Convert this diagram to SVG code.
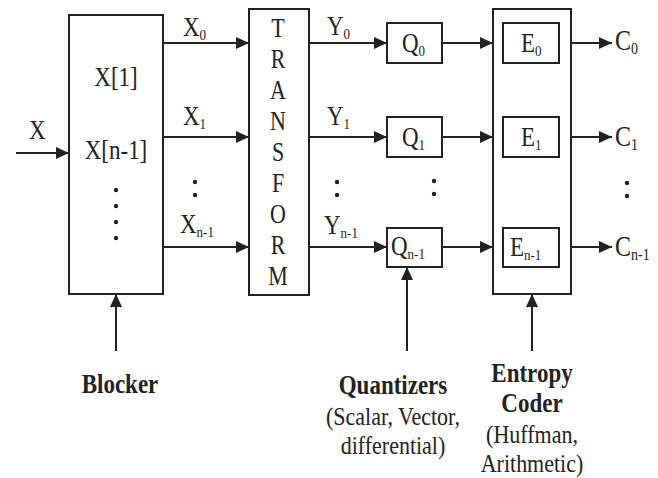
<svg xmlns="http://www.w3.org/2000/svg" width="658" height="478" viewBox="0 0 658 478">
<style>
.box{fill:none;stroke:#222;stroke-width:2}
.ln{stroke:#222;stroke-width:2;fill:none}
.arr{marker-end:url(#ah)}
text{font-family:"Liberation Serif","Times New Roman",serif;fill:#222}
.t{font-size:23px}
.s{font-size:13px}
.c{font-size:24px}
.cs{font-size:14px}
.b{font-size:23px;font-weight:bold;text-anchor:middle}
.n{font-size:22px;text-anchor:middle}
.m{text-anchor:middle}
.dot{fill:#222}
</style>
<defs>
<marker id="ah" markerUnits="userSpaceOnUse" markerWidth="14" markerHeight="12" refX="13" refY="6" orient="auto">
<path d="M0,0 L13,6 L0,12 z" fill="#222"/>
</marker>
</defs>
<rect width="658" height="478" fill="#fff"/>

<g id="connectors">
<line class="ln arr" x1="16" y1="153" x2="69" y2="153"/>
<line class="ln arr" x1="163" y1="43" x2="249" y2="43"/>
<line class="ln arr" x1="163" y1="137" x2="249" y2="137"/>
<line class="ln arr" x1="163" y1="247" x2="249" y2="247"/>
<line class="ln arr" x1="309" y1="43" x2="387" y2="43"/>
<line class="ln arr" x1="309" y1="137" x2="387" y2="137"/>
<line class="ln arr" x1="309" y1="247" x2="387" y2="247"/>
<line class="ln arr" x1="442" y1="43" x2="493" y2="43"/>
<line class="ln arr" x1="442" y1="137" x2="493" y2="137"/>
<line class="ln arr" x1="442" y1="247" x2="493" y2="247"/>
<line class="ln arr" x1="571" y1="43" x2="612" y2="43"/>
<line class="ln arr" x1="571" y1="137" x2="612" y2="137"/>
<line class="ln arr" x1="571" y1="247" x2="612" y2="247"/>
<line class="ln arr" x1="116" y1="351" x2="116" y2="294"/>
<line class="ln arr" x1="407" y1="351" x2="407" y2="267"/>
<line class="ln arr" x1="532" y1="351" x2="532" y2="294"/>
</g>

<g id="input-label">
<text class="t" transform="translate(29 139) scale(1 1.18)">X</text>
</g>

<g id="blocker">
<rect class="box" x="69" y="15" width="94" height="279"/>
<text class="t m" transform="translate(116 86) scale(1 1.18)">X[1]</text>
<text class="t m" transform="translate(116 159) scale(1 1.18)">X[n-1]</text>
<circle class="dot" cx="116" cy="190" r="2.2"/>
<circle class="dot" cx="116" cy="206" r="2.2"/>
<circle class="dot" cx="116" cy="222" r="2.2"/>
<circle class="dot" cx="116" cy="238" r="2.2"/>
</g>

<g id="x-labels">
<text class="t" transform="translate(183 36) scale(1 1.18)">X<tspan class="s" dy="3">0</tspan></text>
<text class="t" transform="translate(183 125) scale(1 1.18)">X<tspan class="s" dy="3">1</tspan></text>
<text class="t" transform="translate(180 233) scale(1 1.18)">X<tspan class="s" dy="3">n-1</tspan></text>
<circle class="dot" cx="195" cy="182" r="2.2"/>
<circle class="dot" cx="195" cy="195" r="2.2"/>
</g>

<g id="transform">
<rect class="box" x="249" y="9" width="60" height="286"/>
<text class="n" transform="translate(278 37) scale(1 1.2)">T</text>
<text class="n" transform="translate(278 68) scale(1 1.2)">R</text>
<text class="n" transform="translate(278 99) scale(1 1.2)">A</text>
<text class="n" transform="translate(278 130) scale(1 1.2)">N</text>
<text class="n" transform="translate(278 161) scale(1 1.2)">S</text>
<text class="n" transform="translate(278 192) scale(1 1.2)">F</text>
<text class="n" transform="translate(278 223) scale(1 1.2)">O</text>
<text class="n" transform="translate(278 254) scale(1 1.2)">R</text>
<text class="n" transform="translate(278 285) scale(1 1.2)">M</text>
</g>

<g id="y-labels">
<text class="t" transform="translate(327 35) scale(1 1.18)">Y<tspan class="s" dy="3">0</tspan></text>
<text class="t" transform="translate(327 125) scale(1 1.18)">Y<tspan class="s" dy="3">1</tspan></text>
<text class="t" transform="translate(324 234) scale(1 1.18)">Y<tspan class="s" dy="3">n-1</tspan></text>
<circle class="dot" cx="337" cy="182" r="2.2"/>
<circle class="dot" cx="337" cy="195" r="2.2"/>
</g>

<g id="q0">
<rect class="box" x="387" y="23" width="55" height="40"/>
<text class="t" transform="translate(402 52) scale(1 1.18)">Q<tspan class="s" dy="3">0</tspan></text>
</g>
<g id="q1">
<rect class="box" x="387" y="117" width="55" height="40"/>
<text class="t" transform="translate(402 146) scale(1 1.18)">Q<tspan class="s" dy="3">1</tspan></text>
</g>
<g id="qn1">
<rect class="box" x="387" y="228" width="55" height="39"/>
<text class="t" transform="translate(391 255) scale(1 1.18)">Q<tspan class="s" dy="3">n-1</tspan></text>
</g>
<g id="q-dots">
<circle class="dot" cx="434" cy="181" r="2.2"/>
<circle class="dot" cx="434" cy="194" r="2.2"/>
</g>

<g id="entropy">
<rect class="box" x="493" y="9" width="78" height="285"/>
<g id="e0">
<rect class="box" x="503" y="23" width="56" height="40"/>
<text class="t" transform="translate(521 52) scale(1 1.18)">E<tspan class="s" dy="3">0</tspan></text>
</g>
<g id="e1">
<rect class="box" x="503" y="117" width="56" height="40"/>
<text class="t" transform="translate(521 146) scale(1 1.18)">E<tspan class="s" dy="3">1</tspan></text>
</g>
<g id="en1">
<rect class="box" x="503" y="228" width="56" height="39"/>
<text class="t" transform="translate(510 256) scale(1 1.18)">E<tspan class="s" dy="3">n-1</tspan></text>
</g>
</g>

<g id="c-labels">
<text class="c" transform="translate(615 50) scale(1 1.2)">C<tspan class="cs" dy="3">0</tspan></text>
<text class="c" transform="translate(615 146) scale(1 1.2)">C<tspan class="cs" dy="3">1</tspan></text>
<text class="c" transform="translate(615 256) scale(1 1.2)">C<tspan class="cs" dy="3">n-1</tspan></text>
<circle class="dot" cx="627" cy="183" r="2.2"/>
<circle class="dot" cx="627" cy="196" r="2.2"/>
</g>

<g id="blocker-label">
<text class="b" transform="translate(120 393) scale(1 1.18)">Blocker</text>
</g>
<g id="quantizers-label">
<text class="b" transform="translate(393 394) scale(1 1.18)">Quantizers</text>
<text class="n" transform="translate(393 425) scale(1 1.18)">(Scalar, Vector,</text>
<text class="n" transform="translate(393 454) scale(1 1.18)">differential)</text>
</g>
<g id="entropy-label">
<text class="b" transform="translate(532 382) scale(1 1.18)">Entropy</text>
<text class="b" transform="translate(532 412) scale(1 1.18)">Coder</text>
<text class="n" transform="translate(532 443) scale(1 1.18)">(Huffman,</text>
<text class="n" transform="translate(532 472) scale(1 1.18)">Arithmetic)</text>
</g>
</svg>
